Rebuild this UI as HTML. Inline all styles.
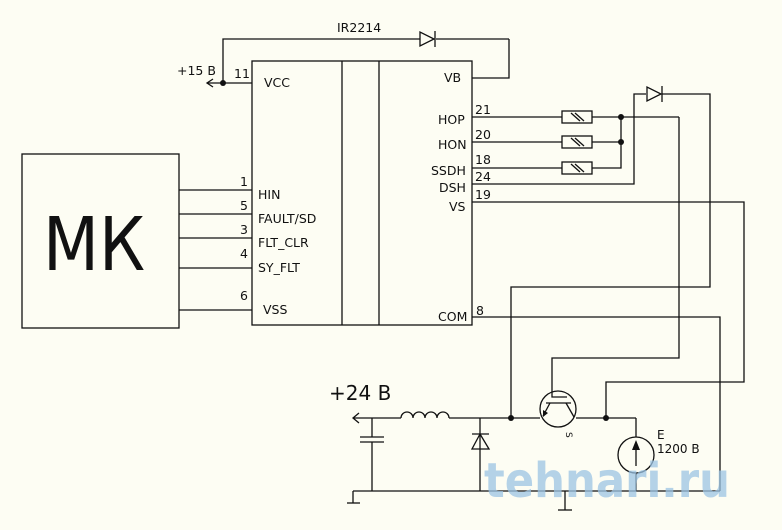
<!DOCTYPE html>
<html><head><meta charset="utf-8"><style>
html,body{margin:0;padding:0;background:#fdfdf3;}
svg{display:block;}
text{font-family:"DejaVu Sans","Liberation Sans",sans-serif;fill:#111;}
</style></head><body>
<svg width="782" height="530" viewBox="0 0 782 530" xmlns="http://www.w3.org/2000/svg">
<rect width="782" height="530" fill="#fdfdf3"/>
<g stroke="#111" stroke-width="1.3" fill="none">
<rect x="22" y="154" width="157" height="174"/>
<rect x="252" y="61" width="220" height="264"/>
<line x1="342" y1="61" x2="342" y2="325"/>
<line x1="379" y1="61" x2="379" y2="325"/>
<line x1="179" y1="190" x2="252" y2="190"/>
<line x1="179" y1="214" x2="252" y2="214"/>
<line x1="179" y1="238" x2="252" y2="238"/>
<line x1="179" y1="268" x2="252" y2="268"/>
<line x1="179" y1="310" x2="252" y2="310"/>
<line x1="207" y1="83" x2="252" y2="83"/>
<polyline points="213,79 207,83 213,87"/>
<polyline points="223,83 223,39 420,39"/>
<line x1="436" y1="39" x2="509" y2="39"/>
<polygon points="420,32 420,46 434,39"/>
<line x1="435" y1="31" x2="435" y2="47"/>
<polyline points="509,39 509,78 472,78"/>
<line x1="472" y1="117" x2="562" y2="117"/>
<line x1="592" y1="117" x2="679" y2="117"/>
<line x1="472" y1="142" x2="562" y2="142"/>
<line x1="592" y1="142" x2="621" y2="142"/>
<line x1="472" y1="168" x2="562" y2="168"/>
<polyline points="592,168 621,168 621,117"/>
<rect x="562" y="111" width="30" height="12"/>
<rect x="562" y="136" width="30" height="12"/>
<rect x="562" y="162" width="30" height="12"/>
<line x1="571" y1="113" x2="580" y2="121"/><line x1="575" y1="113" x2="584" y2="121"/>
<line x1="571" y1="138" x2="580" y2="146"/><line x1="575" y1="138" x2="584" y2="146"/>
<line x1="571" y1="164" x2="580" y2="172"/><line x1="575" y1="164" x2="584" y2="172"/>
<polyline points="472,184 634,184 634,94 646,94"/>
<polygon points="647,87 647,101 661,94"/>
<line x1="662" y1="86" x2="662" y2="102"/>
<polyline points="662,94 710,94 710,287 511,287 511,418"/>
<polyline points="679,117 679,358 552,358 552,397 567,397"/>
<polyline points="472,202 744,202 744,382 606,382 606,418"/>
<polyline points="472,317 720,317 720,491"/>
<line x1="353" y1="418" x2="401" y2="418"/>
<polyline points="359,413 353,418 359,423"/>
<path d="M401,418 a6,6 0 0 1 12,0 a6,6 0 0 1 12,0 a6,6 0 0 1 12,0 a6,6 0 0 1 12,0"/>
<line x1="449" y1="418" x2="540" y2="418"/>
<line x1="576" y1="418" x2="636" y2="418"/>
<line x1="372" y1="418" x2="372" y2="437"/>
<line x1="360" y1="437" x2="384" y2="437"/>
<line x1="360" y1="442" x2="384" y2="442"/>
<line x1="372" y1="442" x2="372" y2="491"/>
<line x1="480" y1="418" x2="480" y2="491"/>
<line x1="472" y1="434" x2="489" y2="434"/>
<polygon points="480,434 472,449 489,449"/>
<circle cx="558" cy="409" r="18"/>
<line x1="546" y1="403" x2="571" y2="403"/>
<line x1="550" y1="403" x2="543" y2="416"/>
<line x1="566" y1="403" x2="574" y2="417"/>
<line x1="636" y1="418" x2="636" y2="437"/>
<circle cx="636" cy="455" r="18"/>
<line x1="636" y1="473" x2="636" y2="491"/>
<line x1="636" y1="466" x2="636" y2="448"/>
<line x1="353" y1="491" x2="720" y2="491"/>
<line x1="353" y1="491" x2="353" y2="503"/>
<line x1="347" y1="503" x2="360" y2="503"/>
<line x1="565" y1="491" x2="565" y2="510"/>
<line x1="558" y1="510" x2="572" y2="510"/>
</g>
<g fill="#111">
<polygon points="543,417 543,410 548,413"/>
<polygon points="636,440 632,450 640,450"/>
<circle cx="223" cy="83" r="3"/>
<circle cx="621" cy="117" r="3"/>
<circle cx="621" cy="142" r="3"/>
<circle cx="511" cy="418" r="3"/>
<circle cx="606" cy="418" r="3"/>
</g>
<text x="43" y="270" font-size="74" font-family="Liberation Sans,sans-serif" textLength="102" lengthAdjust="spacingAndGlyphs">МК</text>
<g font-size="12.5">
<text x="337" y="32">IR2214</text>
<text x="177" y="75">+15 В</text>
<text x="234" y="78">11</text>
<text x="264" y="87">VCC</text>
<text x="444" y="82">VB</text>
<text x="240" y="186">1</text>
<text x="240" y="210">5</text>
<text x="240" y="234">3</text>
<text x="240" y="258">4</text>
<text x="240" y="300">6</text>
<text x="258" y="199">HIN</text>
<text x="258" y="223">FAULT/SD</text>
<text x="258" y="247">FLT_CLR</text>
<text x="258" y="272">SY_FLT</text>
<text x="263" y="314">VSS</text>
<text x="438" y="124">HOP</text>
<text x="438" y="149">HON</text>
<text x="431" y="175">SSDH</text>
<text x="439" y="192">DSH</text>
<text x="449" y="211">VS</text>
<text x="438" y="321">COM</text>
<text x="475" y="114">21</text>
<text x="475" y="139">20</text>
<text x="475" y="164">18</text>
<text x="475" y="181">24</text>
<text x="475" y="199">19</text>
<text x="476" y="315">8</text>
</g>
<text x="329" y="400" font-size="20" font-family="Liberation Sans,sans-serif">+24 В</text>
<text x="657" y="439" font-size="12" font-family="Liberation Sans,sans-serif">E</text>
<text x="657" y="453" font-size="12" font-family="Liberation Sans,sans-serif">1200 В</text>
<text x="568" y="438" font-size="9" transform="rotate(90 570 434)">S</text>
<text x="484" y="497" font-size="48" font-weight="bold" font-family="Liberation Sans,sans-serif" style="fill:#9cc4e4;opacity:0.75" textLength="246" lengthAdjust="spacingAndGlyphs">tehnari.ru</text>
</svg>
</body></html>
